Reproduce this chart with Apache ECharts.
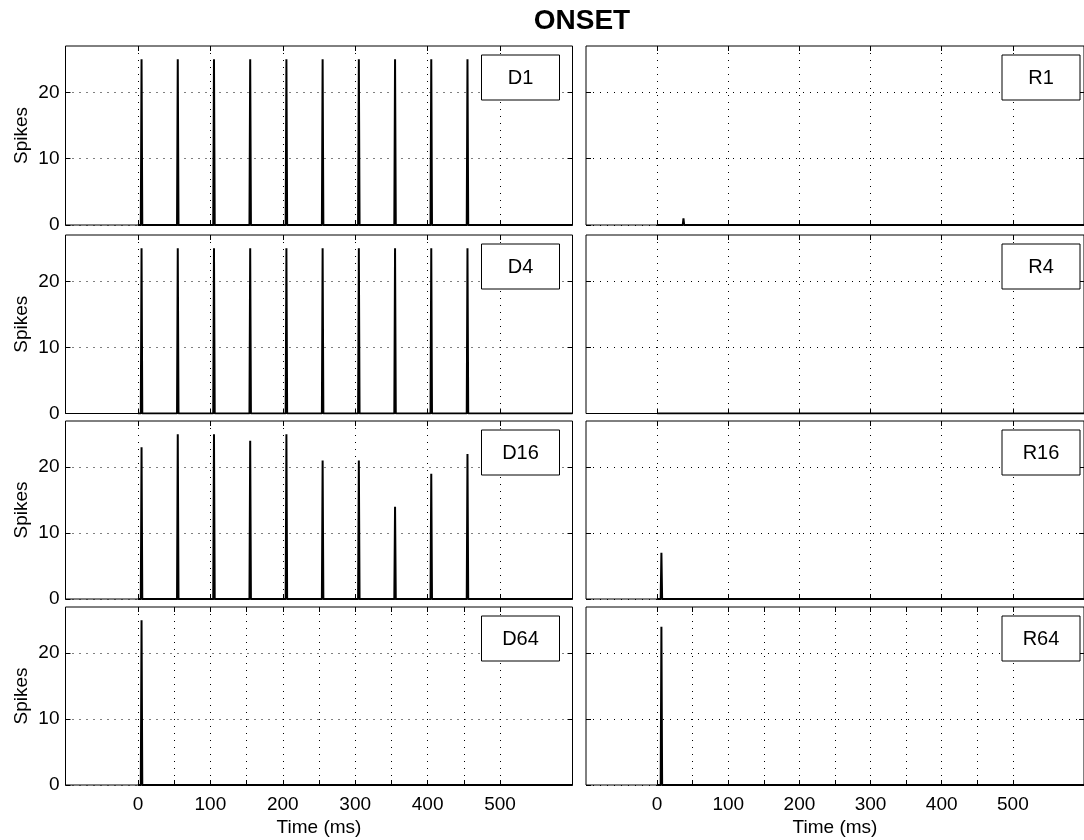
<!DOCTYPE html>
<html>
<head>
<meta charset="UTF-8">
<title>ONSET</title>
<style>
  html, body { margin: 0; padding: 0; background: #fff; }
  #chart { width: 1084px; height: 840px; }
</style>
</head>
<body>
<div id="chart"></div>
<script src="https://cdn.jsdelivr.net/npm/echarts@6/dist/echarts.min.js"></script>
<script>
// panels in reading order: row by row, left (D) then right (R)
var panelNames = ['D1', 'R1', 'D4', 'R4', 'D16', 'R16', 'D64', 'R64'];

// spike times (ms) and peak spike counts
var trainTimes = [5, 55, 105, 155, 205, 255, 305, 355, 405, 455];
var d1Counts = [25, 25, 25, 25, 25, 25, 25, 25, 25, 25];
var d4Counts = [25, 25, 25, 25, 25, 25, 25, 25, 25, 25];
var d16Counts = [23, 25, 25, 24, 25, 21, 21, 14, 19, 22];
var d64Times = [5];
var d64Counts = [25];
var r1Times = [37];
var r1Counts = [1];
var r4Times = [];
var r4Counts = [];
var r16Times = [6];
var r16Counts = [7];
var r64Times = [6];
var r64Counts = [24];

// tick labels
var timeTicks = [0, 100, 200, 300, 400, 500];
var fineTimeTicks = [0, 50, 100, 150, 200, 250, 300, 350, 400, 450, 500];
var spikeTicks = [0, 10, 20];

var panelData = [
    [trainTimes, d1Counts], [r1Times, r1Counts],
    [trainTimes, d4Counts], [r4Times, r4Counts],
    [trainTimes, d16Counts], [r16Times, r16Counts],
    [d64Times, d64Counts], [r64Times, r64Counts]
];

// layout (note: no global "top", that one belongs to window)
var colLeft = [65.5, 586];
var gridW = 507;
var rowTop = [46, 235, 421, 607];
var rowH = [179, 178.5, 178, 178];
var FONT = 'Liberation Sans';

// a histogram trace: flat at zero with a narrow peak at every spike
function histLine(times, counts) {
    var pts = [[0, 0]];
    for (var k = 0; k < times.length; k++) {
        pts.push([times[k] - 1, 0], [times[k], counts[k]], [times[k] + 1, 0]);
    }
    pts.push([600, 0]);
    return pts;
}

function dotted() {
    return {type: [1, 6], color: '#000', width: 1};
}

var grids = [], xAxes = [], yAxes = [], series = [], graphics = [];

for (var i = 0; i < panelNames.length; i++) {
    var row = Math.floor(i / 2);
    var col = i % 2;
    var bottomRow = row === 3;
    var gLeft = colLeft[col];
    var gTop = rowTop[row];
    var xTicks = bottomRow ? fineTimeTicks : timeTicks;

    grids.push({
        left: gLeft, top: gTop, width: gridW, height: rowH[row],
        show: true, borderColor: '#000', borderWidth: 1
    });

    // bottom x axis
    xAxes.push({
        type: 'value', gridIndex: i, min: -100, max: 600, position: 'bottom',
        axisLine: {show: false, onZero: false},
        axisTick: {show: true, inside: true, length: 5, customValues: xTicks,
            lineStyle: {color: '#000'}},
        axisLabel: {show: bottomRow, customValues: timeTicks, margin: 10,
            color: '#000', fontSize: 19, fontFamily: FONT},
        splitLine: {show: true, lineStyle: dotted()},
        name: bottomRow ? 'Time (ms)' : '',
        nameLocation: 'middle', nameGap: 33,
        nameTextStyle: {color: '#000', fontSize: 19, fontFamily: FONT}
    });
    // mirrored top x axis (ticks only)
    xAxes.push({
        type: 'value', gridIndex: i, min: -100, max: 600, position: 'top',
        axisLine: {show: false, onZero: false},
        axisTick: {show: true, inside: true, length: 5, customValues: xTicks,
            lineStyle: {color: '#000'}},
        axisLabel: {show: false},
        splitLine: {show: false}
    });

    // left y axis
    yAxes.push({
        type: 'value', gridIndex: i, min: 0, max: 27, position: 'left',
        axisLine: {show: false, onZero: false},
        axisTick: {show: true, inside: true, length: 5, customValues: spikeTicks,
            lineStyle: {color: '#000'}},
        axisLabel: {show: col === 0, customValues: spikeTicks, margin: 6,
            color: '#000', fontSize: 19, fontFamily: FONT},
        splitLine: {show: true, lineStyle: dotted()},
        name: col === 0 ? 'Spikes' : '',
        nameLocation: 'middle', nameGap: 34,
        nameTextStyle: {color: '#000', fontSize: 19, fontFamily: FONT}
    });
    // mirrored right y axis (ticks only)
    yAxes.push({
        type: 'value', gridIndex: i, min: 0, max: 27, position: 'right',
        axisLine: {show: false, onZero: false},
        axisTick: {show: true, inside: true, length: 5, customValues: spikeTicks,
            lineStyle: {color: '#000'}},
        axisLabel: {show: false},
        splitLine: {show: false}
    });

    series.push({
        name: panelNames[i],
        type: 'line',
        xAxisIndex: 2 * i,
        yAxisIndex: 2 * i,
        data: histLine(panelData[i][0], panelData[i][1]),
        showSymbol: false,
        symbol: 'none',
        lineStyle: {color: '#000', width: 2},
        z: 3
    });

    // boxed panel label, top right corner
    var bx = gLeft + gridW - 13 - 78;
    var by = gTop + 9;
    graphics.push({
        type: 'rect', z: 100,
        shape: {x: bx, y: by, width: 78, height: 45},
        style: {fill: '#fff', stroke: '#000', lineWidth: 1}
    });
    graphics.push({
        type: 'text', z: 101,
        style: {
            text: panelNames[i], x: bx + 39, y: by + 23,
            textAlign: 'center', textVerticalAlign: 'middle',
            font: '20px "Liberation Sans"', fill: '#000'
        }
    });
}

graphics.push({
    type: 'text', z: 101,
    style: {
        text: 'ONSET', x: 582, y: 21,
        textAlign: 'center', textVerticalAlign: 'middle',
        font: 'bold 28px "Liberation Sans"', fill: '#000'
    }
});

var myChart = echarts.init(document.getElementById('chart'));
myChart.setOption({
    backgroundColor: '#fff',
    animation: false,
    grid: grids,
    xAxis: xAxes,
    yAxis: yAxes,
    series: series,
    graphic: graphics
});
</script>
</body>
</html>
